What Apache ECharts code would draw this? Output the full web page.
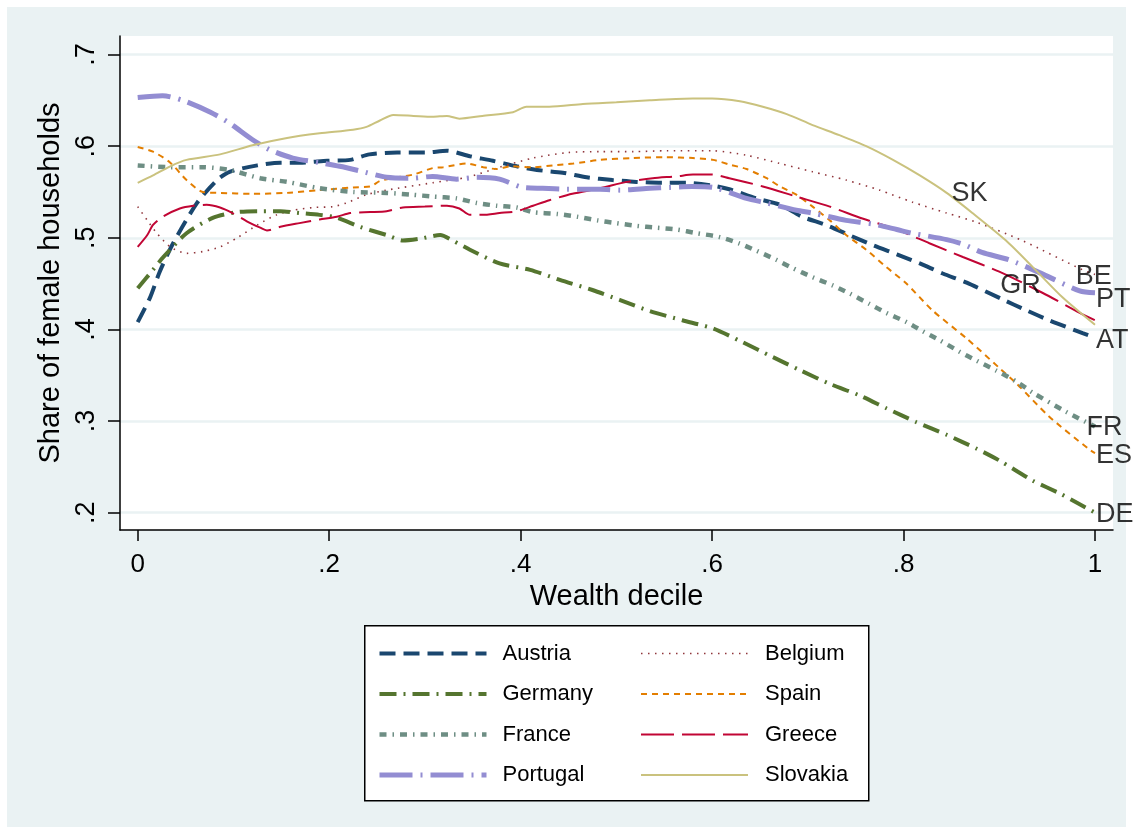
<!DOCTYPE html>
<html>
<head>
<meta charset="utf-8">
<script src="https://cdn.jsdelivr.net/npm/echarts@6/dist/echarts.min.js"></script>
<style>
html,body{margin:0;padding:0;background:#fff;}
#outer{position:absolute;left:7px;top:7px;width:1119px;height:820px;background:#eaf2f3;}
#plotbg{position:absolute;left:120px;top:36px;width:993px;height:494px;background:#fff;}
#chart{position:absolute;left:0;top:0;width:1133px;height:834px;}
</style>
</head>
<body>
<div id="outer"></div>
<div id="plotbg"></div>
<div id="chart"></div>
<script>
// ---- data (x = wealth decile 0..1, y = share of female households) ----
const countries = ['Austria','Belgium','Germany','Spain','France','Greece','Portugal','Slovakia'];
const codes = ['AT','BE','DE','ES','FR','GR','PT','SK'];
const xTicks = [0, 0.2, 0.4, 0.6, 0.8, 1];
const yTicks = [0.2, 0.3, 0.4, 0.5, 0.6, 0.7];

const austria = [[0,.408],[.013,.435],[.023,.463],[.037,.494],[.062,.538],[.083,.563],[.096,.572],[.125,.579],[.149,.582],[.169,.582],[.198,.584],[.222,.585],[.242,.591],[.271,.593],[.3,.593],[.323,.595],[.347,.589],[.371,.584],[.396,.578],[.417,.574],[.444,.571],[.469,.566],[.496,.563],[.521,.561],[.548,.56],[.573,.56],[.6,.557],[.618,.553],[.646,.543],[.671,.536],[.694,.523],[.719,.514],[.743,.503],[.768,.492],[.793,.482],[.817,.472],[.841,.461],[.866,.451],[.903,.433],[.928,.421],[.952,.41],[.987,.396],[1,.391]];
const belgium = [[0,.534],[.01,.519],[.02,.505],[.034,.49],[.051,.483],[.068,.485],[.086,.49],[.104,.5],[.125,.514],[.145,.525],[.162,.53],[.183,.533],[.204,.534],[.218,.538],[.239,.547],[.26,.552],[.308,.56],[.344,.566],[.378,.577],[.413,.587],[.449,.593],[.483,.594],[.518,.594],[.553,.595],[.6,.595],[.636,.59],[.671,.581],[.705,.572],[.74,.563],[.775,.552],[.809,.539],[.845,.527],[.876,.517],[.924,.497],[.987,.465],[1,.46]];
const germany = [[0,.445],[.016,.465],[.026,.478],[.051,.505],[.079,.522],[.104,.528],[.128,.529],[.149,.529],[.169,.527],[.19,.525],[.208,.522],[.232,.512],[.26,.503],[.277,.497],[.295,.499],[.316,.503],[.329,.497],[.347,.487],[.378,.472],[.41,.465],[.441,.454],[.475,.443],[.504,.432],[.535,.42],[.569,.41],[.601,.401],[.632,.386],[.663,.37],[.691,.356],[.722,.341],[.754,.328],[.782,.314],[.813,.299],[.845,.285],[.876,.27],[.9,.257],[.935,.235],[.965,.22],[1,.2]];
const spain = [[0,.599],[.016,.594],[.034,.582],[.051,.563],[.068,.55],[.086,.549],[.12,.548],[.156,.549],[.19,.552],[.225,.555],[.243,.556],[.253,.562],[.271,.566],[.288,.569],[.308,.576],[.319,.577],[.344,.581],[.361,.577],[.375,.575],[.389,.578],[.413,.577],[.434,.579],[.455,.581],[.483,.585],[.517,.587],[.552,.588],[.58,.587],[.601,.585],[.618,.58],[.636,.575],[.657,.565],[.671,.556],[.688,.547],[.705,.534],[.723,.519],[.74,.503],[.761,.487],[.782,.468],[.803,.45],[.83,.421],[.866,.39],[.9,.358],[.918,.341],[.952,.305],[.994,.269],[1,.265]];
const france = [[0,.579],[.034,.577],[.068,.577],[.096,.574],[.128,.565],[.156,.561],[.19,.554],[.225,.55],[.26,.549],[.287,.547],[.308,.545],[.333,.543],[.354,.538],[.375,.535],[.396,.533],[.413,.528],[.438,.526],[.459,.523],[.48,.519],[.5,.516],[.521,.513],[.542,.511],[.563,.509],[.584,.505],[.607,.501],[.628,.494],[.646,.486],[.667,.476],[.684,.467],[.705,.457],[.726,.448],[.744,.439],[.764,.428],[.782,.418],[.803,.408],[.82,.398],[.838,.388],[.858,.376],[.876,.366],[.897,.355],[.918,.343],[.935,.331],[.97,.31],[1,.294]];
const greece = [[0,.49],[.01,.503],[.016,.514],[.026,.523],[.044,.532],[.058,.535],[.072,.536],[.086,.533],[.099,.527],[.114,.518],[.128,.511],[.135,.508],[.149,.512],[.169,.516],[.19,.52],[.208,.523],[.222,.527],[.243,.528],[.26,.529],[.277,.533],[.3,.534],[.323,.535],[.336,.532],[.347,.525],[.36,.525],[.378,.527],[.396,.529],[.413,.535],[.43,.541],[.454,.548],[.483,.554],[.511,.561],[.538,.565],[.563,.567],[.58,.569],[.6,.569],[.618,.565],[.653,.556],[.688,.545],[.723,.534],[.757,.521],[.793,.509],[.827,.494],[.862,.479],[.9,.463],[.945,.44],[.984,.418],[1,.41]];
const portugal = [[0,.653],[.026,.655],[.047,.65],[.076,.637],[.096,.625],[.12,.607],[.138,.596],[.162,.587],[.19,.582],[.211,.578],[.232,.573],[.26,.566],[.287,.565],[.308,.567],[.333,.564],[.354,.566],[.378,.564],[.402,.555],[.423,.554],[.448,.553],[.483,.553],[.504,.552],[.535,.554],[.556,.555],[.579,.556],[.601,.555],[.636,.543],[.657,.538],[.688,.53],[.705,.527],[.74,.519],[.768,.515],[.793,.509],[.809,.505],[.845,.498],[.862,.493],[.882,.484],[.91,.476],[.942,.462],[.984,.442],[1,.44]];
const slovakia = [[0,.56],[.016,.568],[.034,.578],[.051,.585],[.086,.591],[.12,.601],[.156,.609],[.19,.614],[.225,.618],[.239,.621],[.253,.628],[.267,.634],[.288,.633],[.308,.632],[.323,.633],[.336,.63],[.36,.633],[.392,.637],[.406,.643],[.43,.643],[.465,.646],[.5,.648],[.535,.65],[.58,.652],[.6,.652],[.629,.649],[.653,.643],[.678,.635],[.705,.623],[.733,.612],[.761,.6],[.789,.585],[.817,.568],[.845,.549],[.872,.527],[.907,.497],[.935,.468],[.966,.435],[1,.405]];

// country code labels placed at the line ends: [x, y, code]
const endLabels = [[.85,.548,'SK'],[.98,.458,'BE'],[.901,.448,'GR'],[1.001,.433,'PT'],[1.001,.388,'AT'],[.991,.293,'FR'],[1.001,.262,'ES'],[1.001,.198,'DE']];

const seriesData = [austria, belgium, germany, spain, france, greece, portugal, slovakia];
const colors = ['#1a476f','#90353b','#55752f','#e37e00','#6e8e84','#c10534','#938dd2','#cac27e'];
const widths = [4, 1.6, 4, 2, 4.5, 2, 5, 2];
const dashes = [[16,8],[1.5,5.5],[17,7,2,7],[6,5],[7,6,1.5,6],[33,8],[33,8,2,8],'solid'];

const FONT = '"Liberation Sans", Arial, Helvetica, sans-serif';

function fmt(v){
  const r = Math.round(v*10)/10;
  if (r === 0) return '0';
  if (r === 1) return '1';
  return String(r).replace(/^0/, '');
}

const chart = echarts.init(document.getElementById('chart'), null, {renderer:'canvas'});

const series = countries.map((name, i) => ({
  name: name,
  type: 'line',
  data: seriesData[i],
  showSymbol: false,
  symbol: 'none',
  smooth: 0.25,
  animation: false,
  lineStyle: {color: colors[i], width: widths[i], type: dashes[i]},
  itemStyle: {color: colors[i]},
  z: 2 + i
}));

series.push({
  name: 'labels',
  type: 'scatter',
  data: endLabels,
  symbolSize: 0,
  animation: false,
  silent: true,
  z: 20,
  label: {
    show: true,
    position: 'right',
    distance: 0,
    formatter: p => p.value[2],
    fontFamily: FONT,
    fontSize: 27,
    color: '#000'
  }
});

function legendItems(names){
  return names.map(n => {
    const i = countries.indexOf(n);
    return {name: n, lineStyle: {width: widths[i], type: dashes[i], color: colors[i]}};
  });
}

const legendCommon = {
  orient: 'vertical',
  padding: 0,
  itemWidth: 107,
  itemHeight: 2,
  itemGap: 18.5,
  selectedMode: false,
  itemStyle: {color: 'rgba(0,0,0,0)', borderWidth: 0, opacity: 0},
  textStyle: {fontFamily: FONT, fontSize: 22, color: '#000', lineHeight: 22}
};

chart.setOption({
  backgroundColor: 'transparent',
  animation: false,
  grid: {left: 120, top: 36, right: 20, bottom: 304, containLabel: false},
  xAxis: {
    type: 'value',
    min: -0.0185,
    max: 1.0188,
    name: 'Wealth decile',
    nameLocation: 'middle',
    nameGap: 42,
    nameTextStyle: {fontFamily: FONT, fontSize: 29, color: '#000'},
    axisLine: {show: true, onZero: false, lineStyle: {color: '#000', width: 1.5}},
    axisTick: {show: true, length: 11, customValues: xTicks, lineStyle: {color: '#000', width: 1.5}},
    axisLabel: {customValues: xTicks, formatter: fmt, margin: 22, fontFamily: FONT, fontSize: 26, color: '#000', showMinLabel: true, showMaxLabel: true},
    splitLine: {show: false}
  },
  yAxis: {
    type: 'value',
    min: 0.1811,
    max: 0.7202,
    name: 'Share of female households',
    nameLocation: 'middle',
    nameGap: 36,
    nameRotate: 90,
    nameTextStyle: {fontFamily: FONT, fontSize: 29, color: '#000'},
    axisLine: {show: true, onZero: false, lineStyle: {color: '#000', width: 1.5}},
    axisTick: {show: true, length: 12, customValues: yTicks, lineStyle: {color: '#000', width: 1.5}},
    axisLabel: {customValues: yTicks, formatter: fmt, rotate: 90, margin: 20, fontFamily: FONT, fontSize: 27, color: '#000', showMinLabel: true, showMaxLabel: true},
    splitLine: {show: true, lineStyle: {color: '#eaf2f3', width: 2.5}}
  },
  legend: [
    Object.assign({}, legendCommon, {left: 377, top: 642.5, data: legendItems(['Austria','Germany','France','Portugal']),
      textStyle: Object.assign({}, legendCommon.textStyle, {padding: [0,0,0,11]})}),
    Object.assign({}, legendCommon, {left: 640, top: 642.5, data: legendItems(['Belgium','Spain','Greece','Slovakia']),
      textStyle: Object.assign({}, legendCommon.textStyle, {padding: [0,0,0,12]})})
  ],
  graphic: [{
    type: 'rect',
    left: 364, top: 625,
    shape: {width: 504, height: 175},
    style: {fill: '#fff', stroke: '#000', lineWidth: 1.5},
    z: -1
  }],
  series: series
});
</script>
</body>
</html>
